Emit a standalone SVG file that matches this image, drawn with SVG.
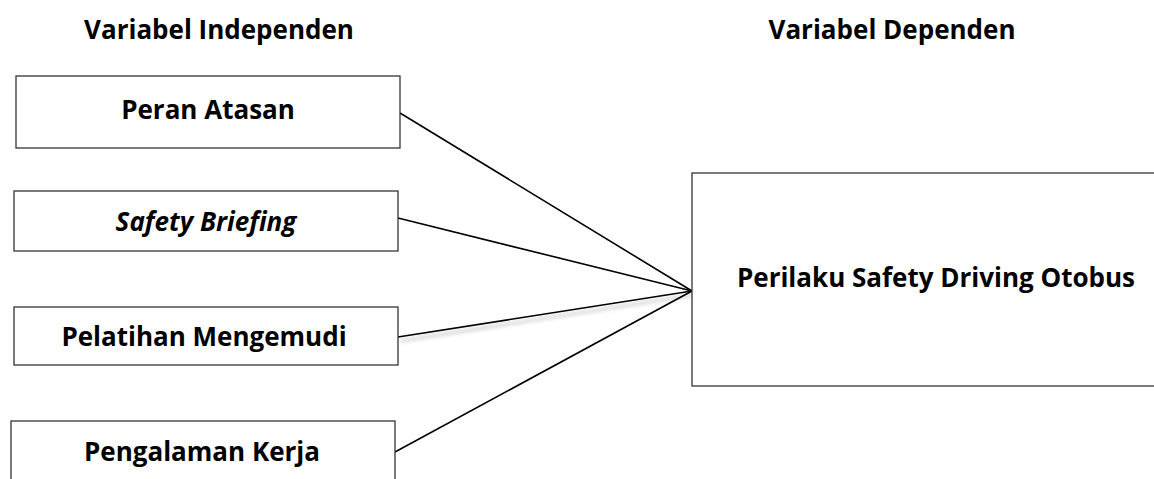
<svg xmlns="http://www.w3.org/2000/svg" width="1154" height="479" viewBox="0 0 1154 479">
<defs>
<style>
.box{fill:#fff;stroke:#333;stroke-width:1.3}
.t{font-family:"Open Sans","Liberation Sans",sans-serif;font-weight:bold;font-size:26px;fill:#000;text-anchor:middle}
.it{font-style:italic}
.c{stroke:#000;stroke-width:1.6;fill:none}
</style>
<filter id="sh" x="-10%" y="-200%" width="120%" height="500%">
<feGaussianBlur in="SourceAlpha" stdDeviation="2"/>
<feOffset dx="2" dy="4" result="b"/>
<feComponentTransfer><feFuncA type="linear" slope="0.35"/></feComponentTransfer>
<feMerge><feMergeNode/><feMergeNode in="SourceGraphic"/></feMerge>
</filter>
</defs>
<rect width="1154" height="479" fill="#fff"/>
<g id="headers">
<text class="t" x="219" y="39">Variabel Independen</text>
<text class="t" x="892" y="39">Variabel Dependen</text>
</g>
<g id="connectors">
<line class="c" x1="400" y1="113" x2="692" y2="291"/>
<line class="c" x1="398" y1="218" x2="692" y2="291"/>
<line class="c" x1="398" y1="337" x2="692" y2="291" stroke-width="1.1" filter="url(#sh)"/>
<line class="c" x1="395" y1="452" x2="692" y2="291"/>
</g>
<g id="n1"><rect class="box" x="16" y="76" width="384" height="72"/><text class="t" x="208" y="119">Peran Atasan</text></g>
<g id="n2"><rect class="box" x="14" y="191" width="384" height="60"/><text class="t it" x="206" y="231">Safety Briefing</text></g>
<g id="n3"><rect class="box" x="14" y="307" width="384" height="58"/><text class="t" x="204" y="346">Pelatihan Mengemudi</text></g>
<g id="n4"><rect class="box" x="11" y="421" width="384" height="70"/><text class="t" x="202" y="461">Pengalaman Kerja</text></g>
<g id="n5"><rect class="box" x="692" y="173" width="470" height="213"/><text class="t" x="936" y="287">Perilaku Safety Driving Otobus</text></g>
</svg>
